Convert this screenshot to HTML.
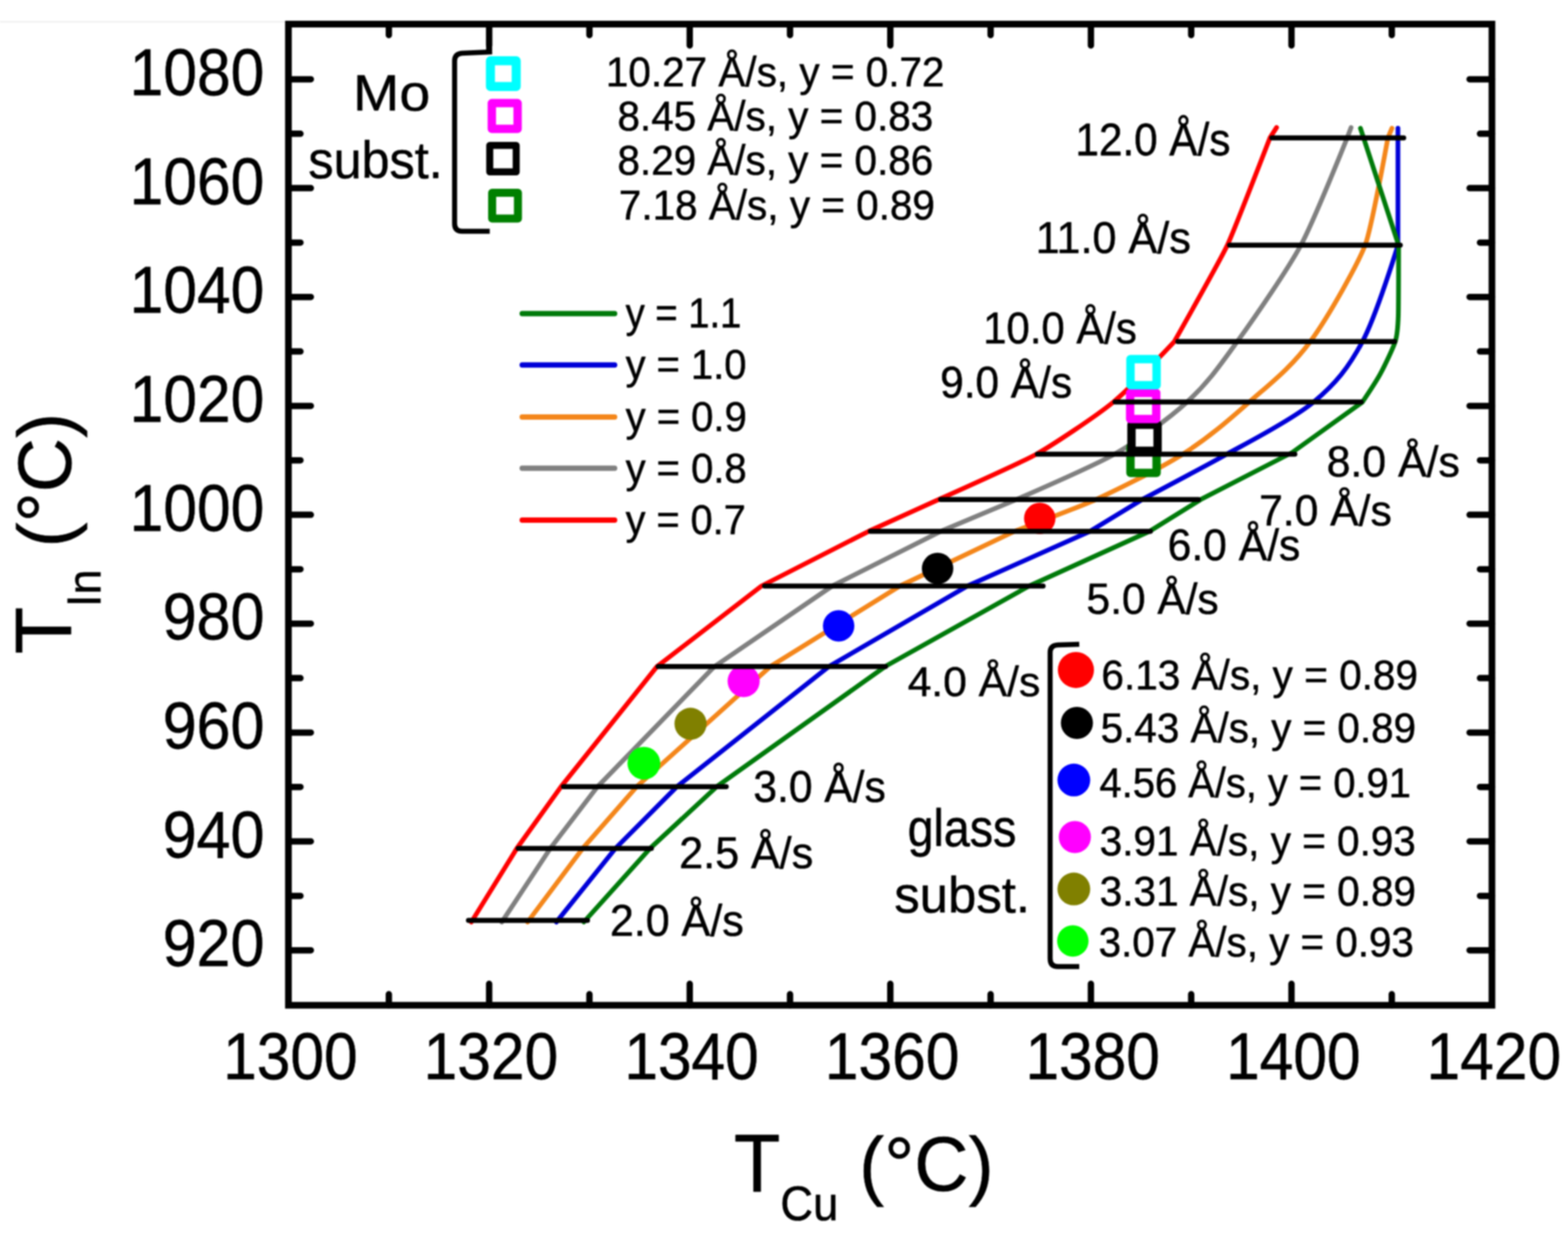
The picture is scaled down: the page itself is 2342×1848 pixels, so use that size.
<!DOCTYPE html>
<html><head><meta charset="utf-8"><title>T_In vs T_Cu</title>
<style>html,body{margin:0;padding:0;background:#ffffff;} body{width:2342px;height:1848px;overflow:hidden;}</style>
</head><body>
<svg width="2342" height="1848" viewBox="0 0 2342 1848" style="display:block;filter:blur(1.1px)">
<rect x="0" y="0" width="2342" height="1848" fill="#ffffff"/>
<line x1="0" y1="32.5" x2="425" y2="32.5" stroke="#ededed" stroke-width="2"/>
<g font-family="'Liberation Sans', Arial, sans-serif" stroke-linejoin="round">
<path d="M704.0,1377.5L772.0,1267.4L838.0,1175.2L981.3,995.8L1137.3,875.5L1297.3,793.8L1402.0,746.2C1402.0,746.2 1526.8,690.3 1548.5,678.2C1570.2,666.1 1635.6,623.0 1663.0,600.6C1690.4,578.2 1754.0,510.3 1754.0,510.3C1754.0,510.3 1823.7,386.6 1833.2,366.3C1842.7,346.0 1896.8,205.9 1896.8,205.9L1906.7,190.5" fill="none" stroke="#ff0000" stroke-width="7" stroke-linejoin="round" stroke-linecap="round"/>
<path d="M749.5,1377.5L822.0,1267.4L892.5,1175.2L1067.0,995.8L1243.0,875.5L1405.0,793.8L1518.0,746.2C1518.0,746.2 1635.2,695.2 1665.0,678.2C1694.8,661.2 1742.5,628.6 1773.0,600.6C1803.5,572.6 1819.7,549.4 1848.0,510.3C1876.3,471.2 1923.8,401.8 1943.0,366.3C1962.2,330.8 2012.2,205.9 2012.2,205.9L2018.0,190.5" fill="none" stroke="#808080" stroke-width="7" stroke-linejoin="round" stroke-linecap="round"/>
<path d="M788.0,1377.5L870.4,1267.4L951.0,1175.2L1150.5,995.8L1344.0,875.5L1515.0,793.8C1515.0,793.8 1616.0,755.8 1637.0,746.2C1658.0,736.6 1728.8,702.5 1767.0,678.2C1805.2,653.9 1834.3,628.6 1866.0,600.6C1897.7,572.6 1928.2,549.4 1957.0,510.3C1985.8,471.2 2029.3,391.7 2039.0,366.3C2048.7,340.9 2073.0,205.9 2073.0,205.9L2079.0,191.6" fill="none" stroke="#f4861a" stroke-width="7" stroke-linejoin="round" stroke-linecap="round"/>
<path d="M831.0,1377.5L919.3,1267.4L1011.0,1175.2L1238.0,995.8L1444.9,875.5L1628.0,793.8L1706.0,746.2C1706.0,746.2 1811.5,690.3 1832.8,678.2C1854.1,666.1 1928.3,628.6 1962.0,600.6C1995.7,572.6 2014.0,549.4 2035.0,510.3C2056.0,471.2 2088.0,366.3 2088.0,366.3L2088.0,191.6" fill="none" stroke="#0000d8" stroke-width="7" stroke-linejoin="round" stroke-linecap="round"/>
<path d="M872.0,1377.5L971.0,1267.4L1070.5,1175.2L1322.0,995.8L1537.0,875.5L1717.0,793.8L1793.5,746.2L1930.0,676.0L2035.0,600.6C2035.0,600.6 2055.1,570.7 2061.6,558.7C2068.1,546.7 2081.3,519.0 2084.0,510.3C2086.7,501.6 2088.1,484.0 2088.5,472.0C2088.9,460.0 2089.0,366.3 2089.0,366.3L2032.0,191.6" fill="none" stroke="#007a0a" stroke-width="7" stroke-linejoin="round" stroke-linecap="round"/>
<rect x="1688.5" y="667.5" width="39" height="39" fill="#fff" stroke="#008000" stroke-width="12.5" stroke-linejoin="round"/>
<rect x="1690.0" y="634.5" width="39" height="39" fill="#fff" stroke="#000000" stroke-width="12.5" stroke-linejoin="round"/>
<rect x="1688.0" y="587.0" width="39" height="39" fill="#fff" stroke="#ff00ff" stroke-width="12.5" stroke-linejoin="round"/>
<rect x="1688.5" y="536.5" width="39" height="39" fill="#fff" stroke="#00ffff" stroke-width="12.5" stroke-linejoin="round"/>
<circle cx="961.7" cy="1140.2" r="24.5" fill="#00ff00"/>
<circle cx="1031.4" cy="1081.3" r="24" fill="#808000"/>
<circle cx="1110.7" cy="1017.6" r="24" fill="#ff00ff"/>
<circle cx="1252.6" cy="935" r="23.5" fill="#0000ff"/>
<circle cx="1400.4" cy="849.3" r="23.5" fill="#000000"/>
<circle cx="1553" cy="774.5" r="23.5" fill="#ff0000"/>
<line x1="1899.7" y1="205.9" x2="2096.6" y2="205.9" stroke="#000" stroke-width="7.5" stroke-linecap="round"/>
<line x1="1836.5" y1="366.3" x2="2091.5" y2="366.3" stroke="#000" stroke-width="7.5" stroke-linecap="round"/>
<line x1="1759.2" y1="510.3" x2="2083" y2="510.3" stroke="#000" stroke-width="7.5" stroke-linecap="round"/>
<line x1="1665.5" y1="600.6" x2="2033" y2="600.6" stroke="#000" stroke-width="7.5" stroke-linecap="round"/>
<line x1="1549.5" y1="678.5" x2="1934" y2="678.5" stroke="#000" stroke-width="7.5" stroke-linecap="round"/>
<line x1="1405" y1="746.2" x2="1790" y2="746.2" stroke="#000" stroke-width="7.5" stroke-linecap="round"/>
<line x1="1300" y1="793.8" x2="1718.3" y2="793.8" stroke="#000" stroke-width="7.5" stroke-linecap="round"/>
<line x1="1142" y1="875.5" x2="1558" y2="875.5" stroke="#000" stroke-width="7.5" stroke-linecap="round"/>
<line x1="983" y1="995.8" x2="1322.7" y2="995.8" stroke="#000" stroke-width="7.5" stroke-linecap="round"/>
<line x1="841.6" y1="1175.2" x2="1084.7" y2="1175.2" stroke="#000" stroke-width="7.5" stroke-linecap="round"/>
<line x1="774" y1="1267.4" x2="972.9" y2="1267.4" stroke="#000" stroke-width="7.5" stroke-linecap="round"/>
<line x1="699.7" y1="1374.9" x2="877.5" y2="1374.9" stroke="#000" stroke-width="7.5" stroke-linecap="round"/>
<rect x="430.8" y="36" width="1797.6" height="1465.8" fill="none" stroke="#000" stroke-width="10" stroke-linejoin="miter"/>
<path d="M580.8,1501.8V1485.3 M580.8,36V52.5 M730.6,1501.8V1469.8 M730.6,36V68 M880.4,1501.8V1485.3 M880.4,36V52.5 M1030.2,1501.8V1469.8 M1030.2,36V68 M1180.0,1501.8V1485.3 M1180.0,36V52.5 M1329.8,1501.8V1469.8 M1329.8,36V68 M1479.6,1501.8V1485.3 M1479.6,36V52.5 M1629.4,1501.8V1469.8 M1629.4,36V68 M1779.2,1501.8V1485.3 M1779.2,36V52.5 M1929.0,1501.8V1469.8 M1929.0,36V68 M2078.8,1501.8V1485.3 M2078.8,36V52.5 M430.8,1419.7H464.3 M2228.5,1419.7H2195.0 M430.8,1338.4H448.8 M2228.5,1338.4H2210.5 M430.8,1257.0H464.3 M2228.5,1257.0H2195.0 M430.8,1175.7H448.8 M2228.5,1175.7H2210.5 M430.8,1094.4H464.3 M2228.5,1094.4H2195.0 M430.8,1013.1H448.8 M2228.5,1013.1H2210.5 M430.8,931.7H464.3 M2228.5,931.7H2195.0 M430.8,850.4H448.8 M2228.5,850.4H2210.5 M430.8,769.1H464.3 M2228.5,769.1H2195.0 M430.8,687.7H448.8 M2228.5,687.7H2210.5 M430.8,606.4H464.3 M2228.5,606.4H2195.0 M430.8,525.1H448.8 M2228.5,525.1H2210.5 M430.8,443.7H464.3 M2228.5,443.7H2195.0 M430.8,362.4H448.8 M2228.5,362.4H2210.5 M430.8,281.1H464.3 M2228.5,281.1H2195.0 M430.8,199.8H448.8 M2228.5,199.8H2210.5 M430.8,118.4H464.3 M2228.5,118.4H2195.0" stroke="#000" stroke-width="9.5" stroke-linecap="round" fill="none"/>
<text transform="translate(242.89,1443.30) scale(0.9201,1)" font-size="99.15" fill="#000" stroke="#000" stroke-width="0.76">920</text>
<text transform="translate(242.89,1280.64) scale(0.9201,1)" font-size="99.15" fill="#000" stroke="#000" stroke-width="0.76">940</text>
<text transform="translate(242.89,1117.98) scale(0.9201,1)" font-size="99.15" fill="#000" stroke="#000" stroke-width="0.76">960</text>
<text transform="translate(242.89,955.32) scale(0.9201,1)" font-size="99.15" fill="#000" stroke="#000" stroke-width="0.76">980</text>
<text transform="translate(193.72,792.66) scale(0.9113,1)" font-size="99.15" fill="#000" stroke="#000" stroke-width="0.77">1000</text>
<text transform="translate(193.72,630.00) scale(0.9113,1)" font-size="99.15" fill="#000" stroke="#000" stroke-width="0.77">1020</text>
<text transform="translate(193.72,467.34) scale(0.9113,1)" font-size="99.15" fill="#000" stroke="#000" stroke-width="0.77">1040</text>
<text transform="translate(193.72,304.68) scale(0.9113,1)" font-size="99.15" fill="#000" stroke="#000" stroke-width="0.77">1060</text>
<text transform="translate(193.72,142.02) scale(0.9113,1)" font-size="99.15" fill="#000" stroke="#000" stroke-width="0.77">1080</text>
<text transform="translate(333.23,1611.50) scale(0.9134,1)" font-size="98.87" fill="#000" stroke="#000" stroke-width="0.77">1300</text>
<text transform="translate(632.83,1611.50) scale(0.9134,1)" font-size="98.87" fill="#000" stroke="#000" stroke-width="0.77">1320</text>
<text transform="translate(932.43,1611.50) scale(0.9134,1)" font-size="98.87" fill="#000" stroke="#000" stroke-width="0.77">1340</text>
<text transform="translate(1232.03,1611.50) scale(0.9134,1)" font-size="98.87" fill="#000" stroke="#000" stroke-width="0.77">1360</text>
<text transform="translate(1531.63,1611.50) scale(0.9134,1)" font-size="98.87" fill="#000" stroke="#000" stroke-width="0.77">1380</text>
<text transform="translate(1831.23,1611.50) scale(0.9134,1)" font-size="98.87" fill="#000" stroke="#000" stroke-width="0.77">1400</text>
<text transform="translate(2130.83,1611.50) scale(0.9134,1)" font-size="98.87" fill="#000" stroke="#000" stroke-width="0.77">1420</text>
<text transform="translate(1096.23,1779.70) scale(0.9264,1)" font-size="122.53" fill="#000" stroke="#000" stroke-width="0.76">T</text>
<text transform="translate(1165.62,1823.30) scale(0.9395,1)" font-size="72.03" fill="#000" stroke="#000" stroke-width="0.75">Cu</text>
<text transform="translate(1283.26,1778.80) scale(0.9692,1)" font-size="115.88" fill="#000" stroke="#000" stroke-width="0.72">(°C)</text>
<text transform="translate(105.80,977.32) rotate(-90) scale(0.9811,1)" font-size="118.02" fill="#000" stroke="#000" stroke-width="0.71">T</text>
<text transform="translate(150.00,907.09) rotate(-90) scale(0.9696,1)" font-size="69.77" fill="#000" stroke="#000" stroke-width="0.72">In</text>
<text transform="translate(105.50,817.74) rotate(-90) scale(0.9875,1)" font-size="113.73" fill="#000" stroke="#000" stroke-width="0.71">(°C)</text>
<text transform="translate(1606.37,232.00) scale(0.9267,1)" font-size="68.05" fill="#000" stroke="#000" stroke-width="0.76">12.0 Å/s</text>
<text transform="translate(1547.07,377.70) scale(0.9691,1)" font-size="66.48" fill="#000" stroke="#000" stroke-width="0.72">11.0 Å/s</text>
<text transform="translate(1468.61,513.00) scale(0.9426,1)" font-size="66.33" fill="#000" stroke="#000" stroke-width="0.74">10.0 Å/s</text>
<text transform="translate(1404.15,593.60) scale(0.9410,1)" font-size="67.34" fill="#000" stroke="#000" stroke-width="0.74">9.0 Å/s</text>
<text transform="translate(1981.42,712.30) scale(0.9816,1)" font-size="65.19" fill="#000" stroke="#000" stroke-width="0.71">8.0 Å/s</text>
<text transform="translate(1880.72,784.70) scale(0.9740,1)" font-size="65.33" fill="#000" stroke="#000" stroke-width="0.72">7.0 Å/s</text>
<text transform="translate(1744.02,836.90) scale(0.9475,1)" font-size="67.19" fill="#000" stroke="#000" stroke-width="0.74">6.0 Å/s</text>
<text transform="translate(1622.86,917.30) scale(0.9708,1)" font-size="65.33" fill="#000" stroke="#000" stroke-width="0.72">5.0 Å/s</text>
<text transform="translate(1355.73,1039.70) scale(1.0094,1)" font-size="63.04" fill="#000" stroke="#000" stroke-width="0.69">4.0 Å/s</text>
<text transform="translate(1125.16,1198.30) scale(0.9418,1)" font-size="67.48" fill="#000" stroke="#000" stroke-width="0.74">3.0 Å/s</text>
<text transform="translate(1014.59,1297.20) scale(0.9523,1)" font-size="67.48" fill="#000" stroke="#000" stroke-width="0.74">2.5 Å/s</text>
<text transform="translate(910.89,1397.70) scale(0.9528,1)" font-size="67.48" fill="#000" stroke="#000" stroke-width="0.73">2.0 Å/s</text>
<line x1="730.6" y1="40" x2="730.6" y2="80" stroke="#000" stroke-width="9"/>
<path d="M735,77.5 L690,79.5 Q679,80.5 679,91 L679,334 Q679,345.4 690,345.4 L731.5,345.4" fill="none" stroke="#000" stroke-width="7.5" stroke-linecap="butt" stroke-linejoin="round"/>
<rect x="732.5" y="90.8" width="38.5" height="38.5" fill="#fff" stroke="#00ffff" stroke-width="13.5" stroke-linejoin="round"/>
<rect x="734.6" y="154.1" width="38.5" height="38.5" fill="#fff" stroke="#ff00ff" stroke-width="12.5" stroke-linejoin="round"/>
<rect x="731.5" y="217.2" width="39.5" height="39.5" fill="#fff" stroke="#000000" stroke-width="10.5" stroke-linejoin="round"/>
<rect x="735.1" y="287.9" width="38.5" height="38.5" fill="#fff" stroke="#008000" stroke-width="12" stroke-linejoin="round"/>
<text transform="translate(527.37,165.40) scale(1.0824,1)" font-size="76.60" fill="#000" stroke="#000" stroke-width="0.65">Mo</text>
<text transform="translate(460.54,265.50) scale(0.9707,1)" font-size="77.52" fill="#000" stroke="#000" stroke-width="0.72">subst.</text>
<text transform="translate(904.97,129.00) scale(0.9591,1)" font-size="63.04" fill="#000" stroke="#000" stroke-width="0.73">10.27 Å/s, y = 0.72</text>
<text transform="translate(922.28,194.50) scale(0.9580,1)" font-size="63.04" fill="#000" stroke="#000" stroke-width="0.73">8.45 Å/s, y = 0.83</text>
<text transform="translate(922.28,261.00) scale(0.9580,1)" font-size="63.04" fill="#000" stroke="#000" stroke-width="0.73">8.29 Å/s, y = 0.86</text>
<text transform="translate(924.28,328.00) scale(0.9592,1)" font-size="63.04" fill="#000" stroke="#000" stroke-width="0.73">7.18 Å/s, y = 0.89</text>
<line x1="780" y1="468.4" x2="918" y2="468.4" stroke="#007a0a" stroke-width="8" stroke-linecap="round"/>
<text transform="translate(934.41,489.40) scale(0.9180,1)" font-size="62.18" fill="#000" stroke="#000" stroke-width="0.76">y = 1.1</text>
<line x1="780" y1="545.3" x2="918" y2="545.3" stroke="#0000d8" stroke-width="8" stroke-linecap="round"/>
<text transform="translate(934.40,566.30) scale(0.9580,1)" font-size="62.18" fill="#000" stroke="#000" stroke-width="0.73">y = 1.0</text>
<line x1="780" y1="623.0" x2="918" y2="623.0" stroke="#f4861a" stroke-width="8" stroke-linecap="round"/>
<text transform="translate(934.40,644.00) scale(0.9612,1)" font-size="62.18" fill="#000" stroke="#000" stroke-width="0.73">y = 0.9</text>
<line x1="780" y1="699.5" x2="918" y2="699.5" stroke="#808080" stroke-width="8" stroke-linecap="round"/>
<text transform="translate(934.40,720.50) scale(0.9596,1)" font-size="62.18" fill="#000" stroke="#000" stroke-width="0.73">y = 0.8</text>
<line x1="780" y1="777.0" x2="918" y2="777.0" stroke="#ff0000" stroke-width="8" stroke-linecap="round"/>
<text transform="translate(934.40,798.00) scale(0.9531,1)" font-size="62.18" fill="#000" stroke="#000" stroke-width="0.73">y = 0.7</text>
<path d="M1612,962.5 L1580,963.5 Q1568.5,964 1568.5,975 L1568.5,1432 Q1568.5,1444 1580,1444 L1612,1444" fill="none" stroke="#000" stroke-width="7.5" stroke-linecap="butt" stroke-linejoin="round"/>
<circle cx="1607" cy="1000.9" r="27" fill="#ff0000"/>
<text transform="translate(1645.07,1029.80) scale(0.9607,1)" font-size="63.04" fill="#000" stroke="#000" stroke-width="0.73">6.13 Å/s, y = 0.89</text>
<circle cx="1608.5" cy="1080" r="24" fill="#000000"/>
<text transform="translate(1644.09,1109.00) scale(0.9565,1)" font-size="63.04" fill="#000" stroke="#000" stroke-width="0.73">5.43 Å/s, y = 0.89</text>
<circle cx="1603.9" cy="1165.3" r="24.5" fill="#0000ff"/>
<text transform="translate(1642.31,1191.10) scale(0.9446,1)" font-size="63.04" fill="#000" stroke="#000" stroke-width="0.74">4.56 Å/s, y = 0.91</text>
<circle cx="1605.4" cy="1250.5" r="24" fill="#ff00ff"/>
<text transform="translate(1642.58,1277.90) scale(0.9590,1)" font-size="63.04" fill="#000" stroke="#000" stroke-width="0.73">3.91 Å/s, y = 0.93</text>
<circle cx="1603.9" cy="1328.1" r="24.5" fill="#808000"/>
<text transform="translate(1642.58,1352.50) scale(0.9596,1)" font-size="63.04" fill="#000" stroke="#000" stroke-width="0.73">3.31 Å/s, y = 0.89</text>
<circle cx="1602.4" cy="1405.7" r="23.5" fill="#00ff00"/>
<text transform="translate(1641.09,1428.60) scale(0.9559,1)" font-size="63.04" fill="#000" stroke="#000" stroke-width="0.73">3.07 Å/s, y = 0.93</text>
<text transform="translate(1355.72,1264.20) scale(0.8920,1)" font-size="77.93" fill="#000" stroke="#000" stroke-width="0.78">glass</text>
<text transform="translate(1335.82,1363.20) scale(1.0007,1)" font-size="75.86" fill="#000" stroke="#000" stroke-width="0.70">subst.</text>
</g></svg>
</body></html>
